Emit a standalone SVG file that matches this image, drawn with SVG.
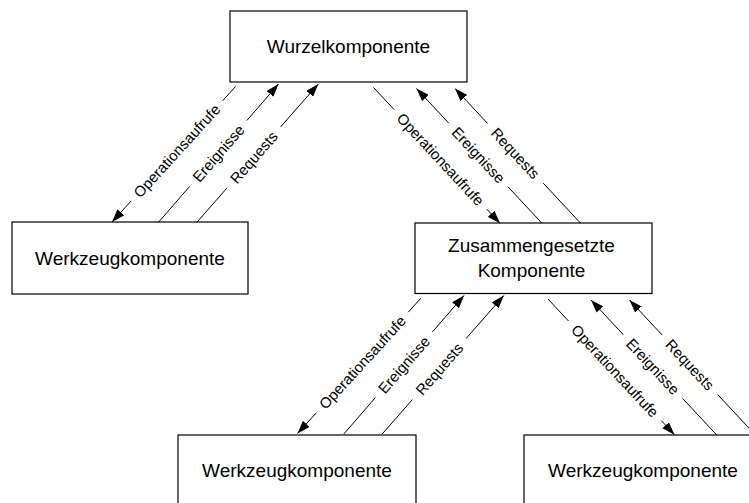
<svg xmlns="http://www.w3.org/2000/svg" width="749" height="503" viewBox="0 0 749 503">
  <defs>
    <marker id="arrow" viewBox="0 0 13 9" refX="13" refY="4.5" markerWidth="13" markerHeight="9" markerUnits="userSpaceOnUse" orient="auto">
      <path d="M0,0 L13,4.5 L0,9 z" fill="#000"/>
    </marker>
    <style>
      .box { fill: #fff; stroke: #000; stroke-width: 1.2; }
      .name { font-family: "Liberation Sans", Arial, sans-serif; font-size: 19px; fill: #000; text-anchor: middle; }
      .wire { fill: none; stroke: #000; stroke-width: 1; }
      .tip { marker-end: url(#arrow); }
      .lbl { font-family: "Liberation Sans", Arial, sans-serif; font-size: 15px; fill: #000; text-anchor: middle; }
    </style>
  </defs>
  <rect width="749" height="503" fill="#fff"/>

  <g id="wurzel">
    <rect class="box" x="230" y="11" width="237" height="71"/>
    <text class="name" x="348.5" y="53.3">Wurzelkomponente</text>
  </g>
  <g id="werkzeug-links">
    <rect class="box" x="12" y="222" width="236" height="72"/>
    <text class="name" x="130" y="264.5">Werkzeugkomponente</text>
  </g>
  <g id="zusammengesetzt">
    <rect class="box" x="415" y="223" width="237" height="70.5"/>
    <text class="name" x="531.5" y="252">Zusammengesetzte</text>
    <text class="name" x="531.5" y="276.5">Komponente</text>
  </g>
  <g id="werkzeug-unten-links">
    <rect class="box" x="178" y="435" width="238" height="72"/>
    <text class="name" x="297" y="476.5">Werkzeugkomponente</text>
  </g>
  <g id="werkzeug-unten-rechts">
    <rect class="box" x="524" y="435" width="238" height="72"/>
    <text class="name" x="643" y="476.5">Werkzeugkomponente</text>
  </g>

  <g id="connectors">
    <!-- Wurzel <-> Werkzeug (links) -->
    <path class="wire" d="M235.6,86.5 L222.7,100.7"/>
    <path class="wire tip" d="M131,201.1 L112,222"/>
    <text class="lbl" transform="translate(176.85,150.9) rotate(-47.6)" dy="5.3">Operationsaufrufe</text>
    <path class="wire" d="M158.3,222.5 L189.9,186.15"/>
    <path class="wire tip" d="M246.9,120.45 L278.5,84"/>
    <text class="lbl" transform="translate(218.4,153.3) rotate(-49)" dy="5.3">Ereignisse</text>
    <path class="wire" d="M196.7,222.5 L226.9,188.1"/>
    <path class="wire tip" d="M280.65,126.9 L318.3,84"/>
    <text class="lbl" transform="translate(253.8,157.5) rotate(-48.7)" dy="5.3">Requests</text>

    <!-- Wurzel <-> Zusammengesetzte Komponente -->
    <path class="wire" d="M373.5,87.5 L394.15,109.64"/>
    <path class="wire tip" d="M486.85,209.16 L500,223.3"/>
    <text class="lbl" transform="translate(440.5,159.4) rotate(47)" dy="5.3">Operationsaufrufe</text>
    <path class="wire" d="M542,223.3 L508,186.8"/>
    <path class="wire tip" d="M448.76,123.17 L416.5,88.5"/>
    <text class="lbl" transform="translate(478.4,155) rotate(47)" dy="5.3">Ereignisse</text>
    <path class="wire" d="M580.7,223.3 L543.2,183.1"/>
    <path class="wire tip" d="M487.64,123.53 L455,88.5"/>
    <text class="lbl" transform="translate(515.4,153.3) rotate(47)" dy="5.3">Requests</text>

    <!-- Zusammengesetzte Komponente <-> Werkzeug (unten links) -->
    <path class="wire" d="M421.1,298 L408.2,312.2"/>
    <path class="wire tip" d="M316.5,412.6 L297.5,433.5"/>
    <text class="lbl" transform="translate(362.35,362.4) rotate(-47.6)" dy="5.3">Operationsaufrufe</text>
    <path class="wire" d="M343.8,434 L375.4,397.65"/>
    <path class="wire tip" d="M432.4,331.95 L464,295.5"/>
    <text class="lbl" transform="translate(403.9,364.8) rotate(-49)" dy="5.3">Ereignisse</text>
    <path class="wire" d="M382.2,434 L412.4,399.6"/>
    <path class="wire tip" d="M466.15,338.4 L503.8,295.5"/>
    <text class="lbl" transform="translate(439.3,369) rotate(-48.7)" dy="5.3">Requests</text>

    <!-- Zusammengesetzte Komponente <-> Werkzeug (unten rechts) -->
    <path class="wire" d="M548,299 L568.65,321.14"/>
    <path class="wire tip" d="M661.35,420.66 L674.5,434.8"/>
    <text class="lbl" transform="translate(615,370.9) rotate(47)" dy="5.3">Operationsaufrufe</text>
    <path class="wire" d="M716.5,434.8 L682.5,398.3"/>
    <path class="wire tip" d="M623.26,334.67 L591,300"/>
    <text class="lbl" transform="translate(652.9,366.5) rotate(47)" dy="5.3">Ereignisse</text>
    <path class="wire" d="M755.2,434.8 L717.7,394.6"/>
    <path class="wire tip" d="M662.14,335.03 L629.5,300"/>
    <text class="lbl" transform="translate(689.9,364.8) rotate(47)" dy="5.3">Requests</text>
  </g>
</svg>
